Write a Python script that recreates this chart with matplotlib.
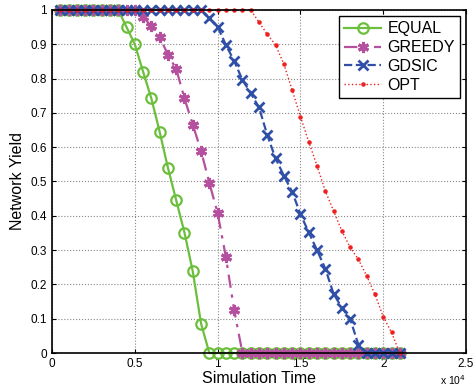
import matplotlib.pyplot as plt
import numpy as np

plt.rcParams['font.family'] = ['Liberation Sans', 'DejaVu Sans']

# simulation time samples (every 500)
time = np.arange(500, 21001, 500)

equal = [1.0] * 8 + [0.95, 0.90, 0.82, 0.742, 0.645, 0.54, 0.445, 0.351, 0.238, 0.086] + [0.0] * 24
greedy = [1.0] * 10 + [0.979, 0.953, 0.922, 0.869, 0.828, 0.742, 0.666, 0.589, 0.496,
                       0.408, 0.28, 0.125] + [0.0] * 20
gdsic = [1.0] * 18 + [0.976, 0.951, 0.898, 0.851, 0.796, 0.757, 0.716, 0.635, 0.567, 0.517,
                      0.47, 0.405, 0.352, 0.30, 0.246, 0.173, 0.132, 0.10, 0.024] + [0.0] * 5
opt = [1.0] * 24 + [0.964, 0.929, 0.898, 0.842, 0.767, 0.689, 0.616, 0.546, 0.473,
                    0.414, 0.356, 0.308, 0.273, 0.225, 0.171, 0.106, 0.06, 0.0]

xticks = [0, 5000, 10000, 15000, 20000, 25000]
xtick_labels = ['0', '0.5', '1', '1.5', '2', '2.5']
yticks = np.arange(0, 1.01, 0.1)
ytick_labels = ['0', '0.1', '0.2', '0.3', '0.4', '0.5', '0.6', '0.7', '0.8', '0.9', '1']

fig = plt.figure(figsize=(4.77, 3.89), dpi=100)
ax = fig.add_axes([0.109, 0.0925, 0.868, 0.882])

ax.plot(time, equal, '-o', color='#6cbf3c', lw=1.6, ms=7.5, mfc='none', mew=1.6,
        label='EQUAL', clip_on=False)
ax.plot(time, greedy, '-.', marker=(6, 2, 0), color='#b5509f', lw=1.6, ms=8, mew=2.2,
        dashes=(6, 3, 1.5, 3), label='GREEDY', clip_on=False)
ax.plot(time, gdsic, '--x', color='#3050a8', lw=1.6, ms=6.5, mew=2,
        label='GDSIC', clip_on=False)
ax.plot(time, opt, ':.', color='#ee2020', lw=1.0, ms=4.5,
        label='OPT', clip_on=False)

ax.set_xlim(0, 25000)
ax.set_ylim(0, 1)
ax.set_xticks(xticks)
ax.set_xticklabels(xtick_labels)
ax.set_yticks(yticks)
ax.set_yticklabels(ytick_labels)
ax.tick_params(direction='in', labelsize=8.5, top=True, right=True, length=3)
ax.grid(True, linestyle=':', color='#888888', lw=0.8)
for s in ax.spines.values():
    s.set_linewidth(1.2)

ax.set_xlabel('Simulation Time', fontsize=11.5, labelpad=1)
ax.set_ylabel('Network Yield', fontsize=11.5)
ax.text(1.0, -0.06, r'x 10$^4$', transform=ax.transAxes, fontsize=7.5, ha='right', va='top')

leg = ax.legend(loc='upper right', fontsize=11.5, fancybox=False, framealpha=1,
                edgecolor='black', handlelength=2.3, borderaxespad=0.4,
                labelspacing=0.25, borderpad=0.3, handletextpad=0.4)
leg.get_frame().set_linewidth(1.0)

fig.savefig('out.png', dpi=100)
